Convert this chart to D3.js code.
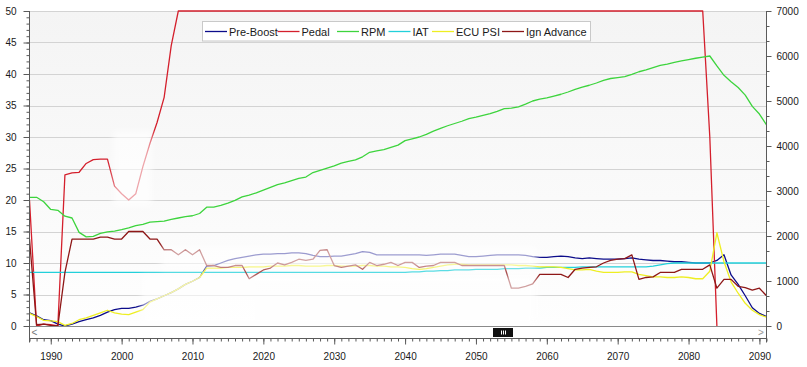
<!DOCTYPE html>
<html>
  <head>
    <title>Boost Log</title>
    <script src="https://d3js.org/d3.v7.min.js"></script>
    <style>
      body {
        margin: 0;
        background-color: white;
      }
      svg {
        display: block;
        font-family: "Liberation Sans", Arial, sans-serif;
      }
    </style>
  </head>
  <body>
    <script>
      const w = 807;
      const h = 367;

      // one sample per x step, 1987..2091
      const years = d3.range(1987, 2092);

      const preBoost = [
        2.1, 1.6, 1.0,
        0.85, 0.3, 0.0, 0.3, 0.7, 1.0, 1.3, 1.7, 2.2, 2.6,
        2.8, 2.8, 3.0, 3.3, 3.9, 4.3, 4.8, 5.3, 5.9, 6.6,
        7.1, 7.7, 9.5, 9.6, 10.0, 10.4, 10.7, 10.9, 11.1, 11.3,
        11.4, 11.4, 11.5, 11.5, 11.6, 11.6, 11.5, 11.2, 11.0, 11.0,
        11.1, 11.1, 11.3, 11.5, 11.8, 11.7, 11.3, 11.3, 11.3, 11.3,
        11.3, 11.3, 11.3, 11.2, 11.3, 11.4, 11.4, 11.4, 11.2, 11.0,
        11.0, 11.1, 11.2, 11.3, 11.3, 11.3, 11.3, 11.2, 11.0, 10.9,
        10.9, 11.0, 11.1, 11.0, 10.8, 10.7, 10.8, 10.7, 10.6, 10.6,
        10.6, 10.7, 10.8, 10.6, 10.5, 10.4, 10.4, 10.3, 10.2, 10.2,
        10.1, 10.0, 10.0, 10.0, 10.4, 11.3, 8.1, 6.6, 4.8, 2.9,
        2.0, 1.5
      ];

      // pedal trace stops at 0 in 2084
      const pedal = [
        20, 0, 0.3,
        0.2, 0, 24.0, 24.3, 24.4, 25.8, 26.4, 26.5, 26.5, 22.2,
        21.0, 20.0, 21.0, 25.3, 29.0, 32.3, 36.3, 44.5, 50, 50,
        50, 50, 50, 50, 50, 50, 50, 50, 50, 50,
        50, 50, 50, 50, 50, 50, 50, 50, 50, 50,
        50, 50, 50, 50, 50, 50, 50, 50, 50, 50,
        50, 50, 50, 50, 50, 50, 50, 50, 50, 50,
        50, 50, 50, 50, 50, 50, 50, 50, 50, 50,
        50, 50, 50, 50, 50, 50, 50, 50, 50, 50,
        50, 50, 50, 50, 50, 50, 50, 50, 50, 50,
        50, 50, 50, 30, 0, null, null, null, null, null,
        null, null
      ];

      const rpm = [
        2860, 2860, 2760,
        2590, 2570, 2440, 2400, 2080, 1980, 1990, 2060, 2090, 2110,
        2140, 2180, 2230, 2260, 2310, 2320, 2330, 2370, 2400, 2430,
        2450, 2500, 2640, 2640, 2680, 2730, 2790, 2870, 2910, 2960,
        3020, 3080, 3140, 3180, 3230, 3280, 3310, 3410, 3460, 3510,
        3560, 3620, 3660, 3690, 3760, 3860, 3890, 3920, 3970, 4020,
        4120, 4160, 4200, 4260, 4330, 4390, 4450, 4500, 4550, 4610,
        4640, 4680, 4720, 4770, 4830, 4840, 4870, 4930, 5000, 5040,
        5070, 5110, 5150, 5200, 5260, 5310, 5350, 5400, 5460, 5500,
        5520, 5540, 5590, 5650, 5690, 5740, 5790, 5820, 5860, 5890,
        5920, 5950, 5975, 6000, 5780, 5570, 5430, 5300, 5130, 4880,
        4710, 4470
      ];

      const iat = [
        8.5, 8.5, 8.5,
        8.5, 8.5, 8.5, 8.5, 8.5, 8.5, 8.5, 8.5, 8.5, 8.5,
        8.5, 8.5, 8.5, 8.5, 8.5, 8.5, 8.5, 8.5, 8.5, 8.5,
        8.5, 8.5, 8.5, 8.5, 8.5, 8.5, 8.5, 8.5, 8.5, 8.5,
        8.5, 8.5, 8.5, 8.5, 8.5, 8.5, 8.5, 8.5, 8.5, 8.5,
        8.5, 8.5, 8.5, 8.5, 8.5, 8.5, 8.5, 8.5, 8.5, 8.5,
        8.5, 8.6, 8.6, 8.7, 8.7, 8.8, 8.8, 8.9, 8.9, 8.9,
        9.0, 9.0, 9.0, 9.0, 9.1, 9.1, 9.1, 9.2, 9.2, 9.2,
        9.3, 9.3, 9.3, 9.3, 9.3, 9.4, 9.4, 9.4, 9.4, 9.4,
        9.4, 9.4, 9.4, 9.4, 9.4, 9.5, 9.7, 9.9, 10.0, 10.0,
        10.0, 10.0, 10.0, 10.0, 10.0, 10.0, 10.0, 10.0, 10.0, 10.0,
        10.0, 10.0
      ];

      const ecuPsi = [
        2.0, 1.5, 0.9,
        0.8, 0.7, 0.1, 0.4, 1.0, 1.3, 1.7, 2.1, 2.5, 2.1,
        1.9, 1.8, 2.2, 2.6, 3.8, 4.3, 4.8, 5.3, 5.9, 6.6,
        7.1, 7.7, 9.2, 9.2, 9.2, 9.3, 9.3, 9.3, 9.4, 9.4,
        9.4, 9.5, 9.5, 9.5, 9.6, 9.6, 9.5, 9.5, 9.5, 9.6,
        9.6, 9.5, 9.5, 9.5, 9.6, 9.6, 9.5, 9.5, 9.4, 9.4,
        9.3, 9.1, 9.0, 9.1, 9.3, 9.5, 9.7, 9.8, 9.8, 9.7,
        9.7, 9.7, 9.7, 9.7, 9.7, 9.7, 9.6, 9.6, 9.5, 9.4,
        9.4, 9.4, 9.3, 9.1, 8.9, 8.9, 9.0, 8.7, 8.5, 8.5,
        8.5, 8.6, 8.6, 8.2, 8.0, 7.8, 7.8, 7.7, 7.7, 7.8,
        7.7, 7.5, 7.5, 8.7, 14.8, 10.2, 7.0, 5.2, 3.6, 2.5,
        1.8, 1.4
      ];

      const ignAdvance = [
        13.8, 0.2, 0.3,
        0.1, 0.0, 8.5, 13.8, 13.8, 13.8, 13.8, 14.1, 14.1, 13.8,
        13.8, 15.0, 15.0, 15.0, 13.8, 13.8, 12.1, 12.1, 11.3, 12.1,
        11.3, 12.1, 9.6, 9.6, 9.3, 9.3, 9.6, 9.6, 7.5, 8.2,
        8.9, 9.2, 10.0, 9.7, 10.1, 10.6, 10.4, 10.6, 12.0, 12.1,
        9.6, 9.3, 9.5, 9.7, 9.0, 10.1, 9.6, 9.8, 10.1, 9.6,
        10.1, 10.1, 9.3, 9.5, 9.6, 10.1, 10.1, 10.1, 9.6, 9.6,
        9.6, 9.6, 9.6, 9.6, 9.6, 6.0, 6.0, 6.3, 6.7, 8.2,
        8.2, 8.2, 8.2, 7.7, 9.0, 9.2, 9.3, 9.4, 10.0, 10.4,
        10.6, 10.7, 11.3, 7.4, 7.7, 7.8, 8.5, 8.5, 8.5, 9.0,
        9.0, 9.0, 9.0, 9.7, 6.0, 7.4, 7.4, 6.3, 6.1, 5.7,
        6.0, 4.8
      ];

      const leftTicks = [0, 5, 10, 15, 20, 25, 30, 35, 40, 45, 50];
      const rightTicks = [0, 1000, 2000, 3000, 4000, 5000, 6000, 7000];
      const xTicks = [1990, 2000, 2010, 2020, 2030, 2040, 2050, 2060, 2070, 2080, 2090];

      const seriesNames = ['Pre-Boost', 'Pedal', 'RPM', 'IAT', 'ECU PSI', 'Ign Advance'];
      const seriesColors = ['#0c0c8a', '#d41f2c', '#3dd43d', '#22d0da', '#eeee22', '#8e1717'];
      const seriesValues = [preBoost, pedal, rpm, iat, ecuPsi, ignAdvance];
      const seriesAxis = ['left', 'left', 'right', 'left', 'left', 'left'];

      const L = 29.5, R = 766.5, T = 11, B = 326, axisY = 338.5;

      const x = d3.scaleLinear().domain([1987, 2091]).range([L, R]);
      const yLeft = d3.scaleLinear().domain([0, 50]).range([B, T]);
      const yRight = d3.scaleLinear().domain([0, 7000]).range([B, T]);

      const svg = d3.select('body')
                    .append('svg')
                    .attr('width', w)
                    .attr('height', h);

      svg.append('rect')
         .attr('width', w)
         .attr('height', h)
         .attr('fill', 'white');

      const defs = svg.append('defs');
      const grad = defs.append('linearGradient')
                       .attr('id', 'plotbg')
                       .attr('x1', 0).attr('y1', 0)
                       .attr('x2', 0).attr('y2', 1);
      grad.append('stop').attr('offset', '0%').attr('stop-color', '#f4f4f4');
      grad.append('stop').attr('offset', '100%').attr('stop-color', '#fefefe');

      defs.append('filter')
          .attr('id', 'soft')
          .attr('x', '-20%').attr('y', '-20%')
          .attr('width', '140%').attr('height', '140%')
          .append('feGaussianBlur')
          .attr('stdDeviation', 3);

      defs.append('clipPath')
          .attr('id', 'plotclip')
          .append('rect')
          .attr('x', L)
          .attr('y', T - 2)
          .attr('width', R - L)
          .attr('height', B - T + 2);

      svg.append('rect')
         .attr('x', L)
         .attr('y', T)
         .attr('width', R - L)
         .attr('height', B - T)
         .attr('fill', 'url(#plotbg)');

      // grid
      svg.append('g')
         .selectAll('line')
         .data(leftTicks.filter(d => d > 0))
         .enter()
         .append('line')
         .attr('x1', L)
         .attr('x2', R)
         .attr('y1', d => Math.round(yLeft(d)) + 0.5)
         .attr('y2', d => Math.round(yLeft(d)) + 0.5)
         .attr('stroke', '#d3d3d3')
         .attr('stroke-width', 1);

      // series
      const plot = svg.append('g').attr('clip-path', 'url(#plotclip)');
      seriesValues.forEach((vals, i) => {
        const yScale = seriesAxis[i] === 'right' ? yRight : yLeft;
        const line = d3.line()
                       .defined(d => d !== null)
                       .x((d, j) => x(years[j]))
                       .y(d => yScale(d));
        plot.append('path')
            .datum(vals)
            .attr('d', line)
            .attr('fill', 'none')
            .attr('stroke', seriesColors[i])
            .attr('stroke-width', 1.3)
            .attr('stroke-linejoin', 'round');
      });

      // faded watermark over the chart (soft light overlay)
      const wm = svg.append('g')
                    .attr('clip-path', 'url(#plotclip)')
                    .append('g')
                    .attr('fill', 'white')
                    .attr('opacity', 0.6)
                    .attr('filter', 'url(#soft)');
      wm.append('rect')
        .attr('x', x(2005.5)).attr('y', yLeft(12.6))
        .attr('width', x(2058.6) - x(2005.5)).attr('height', yLeft(9.0) - yLeft(12.6));
      wm.append('rect')
        .attr('x', x(2002.8)).attr('y', yLeft(8.1))
        .attr('width', x(2058.6) - x(2002.8)).attr('height', yLeft(0.25) - yLeft(8.1));
      wm.append('rect')
        .attr('x', x(1998.8)).attr('y', yLeft(31))
        .attr('width', x(2004.3) - x(1998.8)).attr('height', yLeft(19) - yLeft(31));

      // plot bottom border
      svg.append('line')
         .attr('x1', L).attr('x2', R)
         .attr('y1', B + 0.5).attr('y2', B + 0.5)
         .attr('stroke', '#8a8a8a');

      // scrollbar
      svg.append('text')
         .attr('x', 34.5).attr('y', 335.5)
         .attr('text-anchor', 'middle')
         .attr('font-size', 10)
         .attr('fill', '#777')
         .text('<');
      svg.append('text')
         .attr('x', 761).attr('y', 335.5)
         .attr('text-anchor', 'middle')
         .attr('font-size', 10)
         .attr('fill', '#999')
         .text('>');
      svg.append('rect')
         .attr('x', 493).attr('y', 328)
         .attr('width', 20).attr('height', 9)
         .attr('fill', '#111');
      svg.append('g')
         .selectAll('line')
         .data([501, 503, 505])
         .enter()
         .append('line')
         .attr('x1', d => d + 0.5).attr('x2', d => d + 0.5)
         .attr('y1', 330.5).attr('y2', 334.5)
         .attr('stroke', 'white');

      // axes
      const axisColor = '#5a5a5a';
      function styleAxis(g) {
        g.select('.domain').remove();
        g.selectAll('.tick line').attr('stroke', axisColor);
        g.selectAll('.tick text')
         .attr('fill', '#1a1a1a')
         .attr('font-size', 10)
         .attr('font-family', '"Liberation Sans", Arial, sans-serif');
      }

      svg.append('g')
         .attr('transform', `translate(${L},0)`)
         .call(d3.axisLeft(yLeft).tickValues(d3.range(0, 51, 1)).tickSize(3).tickFormat(''))
         .call(styleAxis);
      svg.append('g')
         .attr('transform', `translate(${L},0)`)
         .call(d3.axisLeft(yLeft).tickValues(leftTicks).tickSize(6).tickPadding(7))
         .call(styleAxis);

      svg.append('g')
         .attr('transform', `translate(${R},0)`)
         .call(d3.axisRight(yRight).tickValues(d3.range(0, 7001, 1000 / 3)).tickSize(3).tickFormat(''))
         .call(styleAxis);
      svg.append('g')
         .attr('transform', `translate(${R},0)`)
         .call(d3.axisRight(yRight).tickValues(rightTicks).tickSize(5).tickPadding(5).tickFormat(d3.format('d')))
         .call(styleAxis);

      svg.append('g')
         .attr('transform', `translate(0,${axisY})`)
         .call(d3.axisBottom(x).tickValues(d3.range(1987, 2092)).tickSize(3).tickFormat(''))
         .call(styleAxis);
      svg.append('g')
         .attr('transform', `translate(0,${axisY})`)
         .call(d3.axisBottom(x).tickValues(xTicks).tickSize(6).tickPadding(8).tickFormat(d3.format('d')))
         .call(styleAxis);

      svg.append('line')
         .attr('x1', L).attr('x2', L)
         .attr('y1', T).attr('y2', axisY + 4)
         .attr('stroke', axisColor);
      svg.append('line')
         .attr('x1', R).attr('x2', R)
         .attr('y1', T).attr('y2', axisY + 4)
         .attr('stroke', axisColor);
      svg.append('line')
         .attr('x1', L).attr('x2', R)
         .attr('y1', axisY).attr('y2', axisY)
         .attr('stroke', axisColor);

      // legend
      const legendItemX = [205, 277.5, 337, 388.5, 432, 502];
      const legend = svg.append('g');
      legend.append('rect')
            .attr('x', 202.5).attr('y', 21.5)
            .attr('width', 388).attr('height', 19.5)
            .attr('fill', 'white')
            .attr('stroke', '#c9c9c9');
      const items = legend.selectAll('g.item')
                          .data(seriesNames)
                          .enter()
                          .append('g')
                          .attr('class', 'item')
                          .attr('transform', (d, i) => `translate(${legendItemX[i]},31.5)`);
      items.append('line')
           .attr('x1', 0).attr('x2', 22)
           .attr('y1', 0).attr('y2', 0)
           .attr('stroke', (d, i) => seriesColors[i])
           .attr('stroke-width', 1.3);
      items.append('text')
           .attr('x', 24)
           .attr('y', 4)
           .attr('font-size', 11)
           .attr('fill', '#1a1a1a')
           .text(d => d);
    </script>
  </body>
</html>
